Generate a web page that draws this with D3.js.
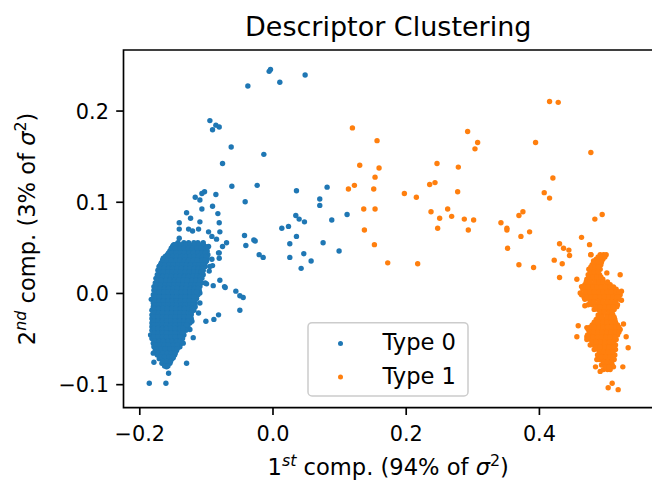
<!DOCTYPE html>
<html><head><meta charset="utf-8">
<script src="https://cdn.jsdelivr.net/npm/d3@7"></script>
<style>body{margin:0;background:#fff;} svg{display:block;font-family:"DejaVu Sans";}</style>
</head><body>
<svg id="chart" width="652" height="483"></svg>
<script>
const chartTitle = "Descriptor Clustering";
const seriesNames = ["Type 0", "Type 1"];
const seriesColors = ["#1f77b4", "#ff7f0e"];
const xTicks = [-0.2, 0.0, 0.2, 0.4];
const yTicks = [-0.1, 0.0, 0.1, 0.2];
const xDomain = [-0.2237, 0.5713];
const yDomain = [-0.1258, 0.2664];

// Type 0: scattered points
const type0Scatter = [
[-0.037,0.227],[-0.005,0.243],[-0.003,0.245],[0.011,0.231],[0.049,0.239],
[-0.094,0.189],[-0.085,0.184],[-0.080,0.182],[-0.090,0.179],
[-0.062,0.160],[-0.013,0.152],[-0.075,0.142],[-0.061,0.117],[-0.023,0.118],[-0.041,0.100],
[0.036,0.112],[0.082,0.116],[0.071,0.103],[0.071,0.096],[0.112,0.086],[0.089,0.080],
[0.035,0.085],[0.040,0.081],[0.048,0.078],[0.014,0.071],[0.024,0.073],[0.036,0.062],[0.026,0.054],
[0.047,0.043],[0.026,0.039],[0.058,0.035],[0.043,0.027],[0.076,0.055],[0.100,0.046],
[-0.042,0.063],[-0.040,0.052],[-0.028,0.058],[-0.026,0.057],[-0.020,0.042],[-0.014,0.039],
[-0.055,0.002],[-0.049,-0.003],[-0.044,-0.005],[-0.049,-0.019],[-0.072,0.007],[-0.081,-0.024],
[-0.088,-0.029],[-0.100,-0.031],[-0.129,-0.077],[-0.185,-0.099],[-0.160,-0.099],[-0.156,-0.088],
[-0.178,-0.076],[-0.182,-0.007],[-0.119,-0.049],[-0.079,0.014],[-0.089,0.008],[-0.071,0.006],
[-0.094,0.029],[-0.080,0.038],[-0.080,0.044],[-0.069,0.055],[-0.075,0.051],[-0.079,0.067],
[-0.082,0.087],[-0.080,0.077],[-0.085,0.108],[-0.090,0.095],[-0.106,0.092],[-0.102,0.111],
[-0.106,0.109],[-0.116,0.105],[-0.109,0.102],[-0.129,0.088],[-0.123,0.082],[-0.109,0.078],
[-0.140,0.077],[-0.140,0.070],[-0.111,0.070],[-0.140,0.060],[-0.148,0.053],[-0.155,0.044],
[-0.170,0.029],[-0.166,0.027],[-0.172,0.009],
[-0.126,0.070],[-0.120,0.068],[-0.096,0.067],[-0.091,0.062],[-0.084,0.059],[-0.149,0.052],
[-0.104,0.055],[-0.096,0.051],[-0.081,0.044],[-0.090,0.030],[-0.095,0.024],[-0.101,0.011],
[-0.099,0.010],[-0.109,0.000],[-0.109,-0.011],[-0.111,-0.022],[-0.121,-0.031],[-0.124,-0.040],
[-0.134,-0.055],[-0.139,-0.059],[-0.149,-0.071],[-0.159,-0.081],[-0.179,-0.066],[-0.183,-0.046],
[-0.180,-0.029],[-0.179,-0.018],[-0.173,0.015],[-0.164,0.024],[-0.156,0.035],[-0.099,0.035],
[-0.091,0.037],[-0.105,0.024],[-0.109,0.020]
];

// Type 0: dense core, rows of [y, x values]
const type0Core = [
[0.055,[-0.142,-0.133,-0.126,-0.118,-0.112]],
[0.051,[-0.150,-0.142,-0.135,-0.128,-0.121,-0.114,-0.107,-0.101]],
[0.046,[-0.154,-0.148,-0.141,-0.135,-0.128,-0.122,-0.115,-0.109,-0.102,-0.098]],
[0.042,[-0.158,-0.155,-0.148,-0.142,-0.135,-0.129,-0.122,-0.116,-0.109,-0.103,-0.097]],
[0.038,[-0.164,-0.161,-0.154,-0.148,-0.141,-0.135,-0.128,-0.122,-0.115,-0.109,-0.102,-0.098]],
[0.033,[-0.167,-0.166,-0.159,-0.153,-0.146,-0.140,-0.133,-0.127,-0.120,-0.114,-0.107,-0.101]],
[0.029,[-0.170,-0.165,-0.159,-0.152,-0.146,-0.139,-0.133,-0.126,-0.120,-0.113,-0.107,-0.101]],
[0.025,[-0.172,-0.168,-0.162,-0.155,-0.149,-0.142,-0.136,-0.129,-0.123,-0.116,-0.110,-0.104]],
[0.020,[-0.173,-0.167,-0.160,-0.154,-0.147,-0.141,-0.134,-0.128,-0.121,-0.115,-0.108,-0.104]],
[0.016,[-0.175,-0.171,-0.164,-0.158,-0.151,-0.145,-0.138,-0.132,-0.125,-0.119,-0.112,-0.106]],
[0.011,[-0.176,-0.170,-0.163,-0.157,-0.150,-0.144,-0.137,-0.131,-0.124,-0.118,-0.111,-0.107]],
[0.007,[-0.178,-0.174,-0.167,-0.161,-0.154,-0.148,-0.141,-0.135,-0.128,-0.122,-0.115,-0.109]],
[0.003,[-0.178,-0.172,-0.165,-0.159,-0.152,-0.146,-0.139,-0.133,-0.126,-0.120,-0.113,-0.110]],
[-0.002,[-0.179,-0.175,-0.168,-0.162,-0.155,-0.149,-0.142,-0.136,-0.129,-0.123,-0.116,-0.112]],
[-0.006,[-0.179,-0.173,-0.166,-0.160,-0.153,-0.147,-0.140,-0.134,-0.127,-0.121,-0.114]],
[-0.011,[-0.179,-0.175,-0.168,-0.162,-0.155,-0.149,-0.142,-0.136,-0.129,-0.123,-0.116]],
[-0.015,[-0.179,-0.173,-0.166,-0.160,-0.153,-0.147,-0.140,-0.134,-0.127,-0.121,-0.116]],
[-0.019,[-0.181,-0.176,-0.170,-0.163,-0.157,-0.150,-0.144,-0.137,-0.131,-0.124,-0.118]],
[-0.024,[-0.181,-0.174,-0.168,-0.161,-0.155,-0.148,-0.142,-0.135,-0.129,-0.122]],
[-0.028,[-0.181,-0.177,-0.171,-0.164,-0.158,-0.151,-0.145,-0.138,-0.132,-0.125,-0.122]],
[-0.033,[-0.181,-0.174,-0.168,-0.161,-0.155,-0.148,-0.142,-0.135,-0.129,-0.124]],
[-0.037,[-0.181,-0.177,-0.171,-0.164,-0.158,-0.151,-0.145,-0.138,-0.132,-0.127]],
[-0.041,[-0.181,-0.174,-0.168,-0.161,-0.155,-0.148,-0.142,-0.135,-0.130]],
[-0.046,[-0.181,-0.177,-0.171,-0.164,-0.158,-0.151,-0.145,-0.138,-0.133]],
[-0.050,[-0.181,-0.174,-0.168,-0.161,-0.155,-0.148,-0.142,-0.135]],
[-0.055,[-0.179,-0.173,-0.166,-0.160,-0.153,-0.147,-0.140,-0.137]],
[-0.059,[-0.178,-0.171,-0.165,-0.158,-0.152,-0.145,-0.140]],
[-0.063,[-0.176,-0.170,-0.163,-0.157,-0.150,-0.144]],
[-0.068,[-0.173,-0.167,-0.160,-0.154,-0.147]],
[-0.072,[-0.170,-0.164,-0.157,-0.151]],
[-0.077,[-0.166,-0.160,-0.154]]
];

// Type 0: dense core, in-between rows
const type0CoreFill = [
[0.053,[-0.146,-0.137,-0.130,-0.124,-0.117,-0.110,-0.104]],
[0.049,[-0.152,-0.146,-0.139,-0.133,-0.126,-0.120,-0.113,-0.107,-0.100]],
[0.044,[-0.156,-0.151,-0.145,-0.138,-0.132,-0.125,-0.119,-0.112,-0.106,-0.101]],
[0.040,[-0.161,-0.157,-0.150,-0.144,-0.137,-0.131,-0.124,-0.118,-0.111,-0.105,-0.100]],
[0.036,[-0.165,-0.158,-0.152,-0.145,-0.139,-0.132,-0.126,-0.119,-0.113,-0.106,-0.101]],
[0.031,[-0.168,-0.162,-0.155,-0.149,-0.142,-0.136,-0.129,-0.123,-0.116,-0.110,-0.104]],
[0.027,[-0.169,-0.163,-0.156,-0.150,-0.143,-0.137,-0.130,-0.124,-0.117,-0.111,-0.105]],
[0.023,[-0.170,-0.164,-0.157,-0.151,-0.144,-0.138,-0.131,-0.125,-0.118,-0.112,-0.107]],
[0.018,[-0.171,-0.165,-0.158,-0.152,-0.145,-0.139,-0.132,-0.126,-0.119,-0.113,-0.108]],
[0.014,[-0.173,-0.167,-0.160,-0.154,-0.147,-0.141,-0.134,-0.128,-0.121,-0.115,-0.109]],
[0.009,[-0.174,-0.168,-0.161,-0.155,-0.148,-0.142,-0.135,-0.129,-0.122,-0.116,-0.111]],
[0.005,[-0.175,-0.169,-0.162,-0.156,-0.149,-0.143,-0.136,-0.130,-0.123,-0.117,-0.112]],
[0.001,[-0.176,-0.170,-0.163,-0.157,-0.150,-0.144,-0.137,-0.131,-0.124,-0.118,-0.114]],
[-0.004,[-0.176,-0.170,-0.163,-0.157,-0.150,-0.144,-0.137,-0.131,-0.124,-0.118]],
[-0.009,[-0.177,-0.170,-0.164,-0.157,-0.151,-0.144,-0.138,-0.131,-0.125,-0.119]],
[-0.013,[-0.176,-0.170,-0.163,-0.157,-0.150,-0.144,-0.137,-0.131,-0.124,-0.119]],
[-0.017,[-0.177,-0.171,-0.164,-0.158,-0.151,-0.145,-0.138,-0.132,-0.125,-0.120]],
[-0.022,[-0.178,-0.171,-0.165,-0.158,-0.152,-0.145,-0.139,-0.132,-0.126,-0.122]],
[-0.026,[-0.178,-0.172,-0.165,-0.159,-0.152,-0.146,-0.139,-0.133,-0.126]],
[-0.031,[-0.178,-0.172,-0.165,-0.159,-0.152,-0.146,-0.139,-0.133,-0.127]],
[-0.035,[-0.178,-0.172,-0.165,-0.159,-0.152,-0.146,-0.139,-0.133,-0.129]],
[-0.039,[-0.178,-0.172,-0.165,-0.159,-0.152,-0.146,-0.139,-0.134]],
[-0.044,[-0.178,-0.172,-0.165,-0.159,-0.152,-0.146,-0.139,-0.135]],
[-0.048,[-0.178,-0.172,-0.165,-0.159,-0.152,-0.146,-0.139]],
[-0.053,[-0.177,-0.170,-0.164,-0.157,-0.151,-0.144,-0.139]],
[-0.057,[-0.175,-0.169,-0.162,-0.156,-0.149,-0.143]],
[-0.061,[-0.174,-0.167,-0.161,-0.154,-0.148,-0.143]],
[-0.066,[-0.171,-0.165,-0.158,-0.152,-0.146]],
[-0.070,[-0.168,-0.162,-0.155,-0.150]],
[-0.075,[-0.164,-0.158,-0.153]],
[-0.080,[-0.162,-0.157]]
];

// Type 1: scattered points
const type1Scatter = [
[0.120,0.181],[0.157,0.167],[0.131,0.140],[0.160,0.137],[0.154,0.127],[0.114,0.114],[0.123,0.118],
[0.152,0.114],[0.137,0.092],[0.154,0.092],[0.138,0.069],[0.153,0.053],[0.173,0.033],
[0.293,0.177],[0.308,0.165],[0.304,0.158],[0.247,0.142],[0.279,0.138],[0.236,0.119],[0.244,0.121],
[0.278,0.111],[0.198,0.109],[0.216,0.105],[0.238,0.089],[0.263,0.092],[0.251,0.082],[0.269,0.084],
[0.288,0.081],[0.302,0.080],[0.248,0.071],[0.294,0.069],[0.218,0.032],
[0.416,0.210],[0.429,0.209],[0.395,0.165],[0.478,0.154],[0.421,0.126],[0.408,0.110],[0.416,0.104],
[0.376,0.089],[0.370,0.085],[0.343,0.077],[0.352,0.071],[0.352,0.069],[0.386,0.067],[0.373,0.062],
[0.353,0.049],[0.370,0.031],[0.392,0.028],[0.495,0.086],[0.484,0.081],[0.464,0.061],[0.431,0.054],
[0.437,0.049],[0.445,0.047],[0.446,0.041],[0.423,0.036],[0.435,0.032],[0.476,0.053],[0.478,0.042],
[0.482,0.035],[0.497,0.040],[0.502,0.022],[0.522,0.020],[0.431,0.017],[0.457,0.015],
[0.524,0.002],[0.524,-0.008],[0.517,-0.015],[0.527,-0.034],[0.531,-0.048],[0.534,-0.060],
[0.526,-0.081],[0.459,-0.036],[0.457,-0.048],[0.469,-0.014],[0.464,0.007],[0.462,0.000],
[0.472,-0.048],[0.479,-0.049],[0.485,-0.081],[0.492,-0.086],[0.504,-0.104],[0.510,-0.099],
[0.519,-0.106],[0.478,0.042],[0.464,-0.002],[0.468,-0.005],[0.472,-0.038],[0.478,-0.040],
[0.487,-0.073],[0.512,-0.081]
];

// Type 1: dense core, rows of [y, x values]
const type1Core = [
[0.042,[0.492,0.497,0.501]],
[0.037,[0.486,0.491,0.496]],
[0.031,[0.480,0.486,0.491,0.493]],
[0.026,[0.475,0.481,0.487,0.492]],
[0.020,[0.474,0.480,0.486,0.491]],
[0.015,[0.472,0.478,0.484,0.490,0.496]],
[0.009,[0.469,0.476,0.482,0.489,0.495,0.502,0.507]],
[0.004,[0.466,0.472,0.479,0.485,0.492,0.498,0.505,0.511,0.516]],
[-0.002,[0.467,0.474,0.480,0.487,0.493,0.500,0.506,0.513,0.519,0.522]],
[-0.007,[0.469,0.476,0.482,0.489,0.495,0.502,0.508,0.515,0.521]],
[-0.013,[0.474,0.480,0.487,0.493,0.500,0.506,0.513,0.518]],
[-0.018,[0.483,0.489,0.496,0.502,0.509,0.513]],
[-0.024,[0.489,0.495,0.502,0.508,0.511]],
[-0.029,[0.486,0.492,0.499,0.505,0.512,0.514]],
[-0.035,[0.480,0.486,0.493,0.499,0.506,0.512,0.518]],
[-0.040,[0.474,0.480,0.487,0.493,0.500,0.506,0.513,0.519,0.522]],
[-0.046,[0.473,0.479,0.486,0.492,0.499,0.505,0.512,0.518]],
[-0.051,[0.472,0.478,0.485,0.491,0.498,0.504,0.511,0.516]],
[-0.057,[0.477,0.483,0.490,0.496,0.503,0.509,0.515]],
[-0.062,[0.483,0.489,0.496,0.502,0.509,0.515]],
[-0.068,[0.488,0.494,0.501,0.507,0.514]],
[-0.073,[0.491,0.497,0.504,0.510,0.513]],
[-0.079,[0.494,0.500,0.507,0.510]],
[-0.084,[0.497,0.503,0.507]]
];

// Type 1: dense core, in-between rows
const type1CoreFill = [
[0.0395,[0.489,0.494,0.499]],
[0.034,[0.483,0.489,0.494]],
[0.0285,[0.478,0.484,0.489]],
[0.023,[0.477,0.483,0.489]],
[0.0175,[0.475,0.481,0.487,0.493]],
[0.012,[0.471,0.477,0.484,0.490,0.496,0.503]],
[0.0065,[0.468,0.474,0.481,0.487,0.494,0.500,0.507,0.512]],
[0.001,[0.470,0.477,0.483,0.490,0.496,0.503,0.509,0.516,0.520]],
[-0.0045,[0.472,0.479,0.485,0.492,0.498,0.505,0.511,0.518]],
[-0.010,[0.477,0.483,0.490,0.496,0.503,0.509,0.515]],
[-0.0155,[0.486,0.492,0.499,0.505,0.511]],
[-0.021,[0.492,0.498,0.505,0.510]],
[-0.0265,[0.489,0.495,0.502,0.508,0.513]],
[-0.032,[0.483,0.489,0.496,0.502,0.509,0.515]],
[-0.0375,[0.477,0.483,0.490,0.496,0.503,0.509,0.516,0.520]],
[-0.043,[0.476,0.482,0.489,0.495,0.502,0.508,0.515,0.520]],
[-0.0485,[0.475,0.481,0.488,0.494,0.501,0.507,0.514]],
[-0.054,[0.480,0.486,0.493,0.499,0.506,0.512]],
[-0.0595,[0.486,0.492,0.499,0.505,0.512]],
[-0.065,[0.491,0.497,0.504,0.511]],
[-0.0705,[0.494,0.500,0.507,0.511]],
[-0.076,[0.497,0.503,0.509]],
[-0.0815,[0.500,0.505]]
];

const expand = rows => rows.flatMap(([y, xs]) => xs.map(x => [x, y]));
const series = [
  type0Scatter.concat(expand(type0Core), expand(type0CoreFill)),
  type1Scatter.concat(expand(type1Core), expand(type1CoreFill))
];

const svg = d3.select("#chart");
const L = 123.5, R = 653, T = 50, B = 407.7;
const x = d3.scaleLinear().domain(xDomain).range([L, R]);
const y = d3.scaleLinear().domain(yDomain).range([B, T]);
const fmt = d3.format(".1f");
const FS = 20.8, LFS = 22.6, TFS = 27, LW = 1.67, TL = 7.3;

// points
series.forEach((pts, i) => {
  svg.append("g").selectAll("circle").data(pts).join("circle")
    .attr("cx", d => x(d[0])).attr("cy", d => y(d[1])).attr("r", 2.7)
    .attr("fill", seriesColors[i]);
});

// spines
svg.append("path").attr("d", `M${L},${T}H${R}V${B}H${L}Z`)
  .attr("fill", "none").attr("stroke", "#000").attr("stroke-width", LW);

// x axis
const xAxis = d3.axisBottom(x).tickValues(xTicks).tickFormat(fmt).tickSize(TL).tickPadding(TL);
const gx = svg.append("g").attr("transform", `translate(0,${B})`).call(xAxis);
gx.select(".domain").remove();
gx.selectAll(".tick line").attr("stroke", "#000").attr("stroke-width", LW);
gx.selectAll(".tick text").attr("font-size", FS).attr("font-family", "DejaVu Sans").attr("fill", "#000").attr("dy", null).attr("y", 33);

const yAxis = d3.axisLeft(y).tickValues(yTicks).tickFormat(fmt).tickSize(TL).tickPadding(TL);
const gy = svg.append("g").attr("transform", `translate(${L},0)`).call(yAxis);
gy.select(".domain").remove();
gy.selectAll(".tick line").attr("stroke", "#000").attr("stroke-width", LW);
gy.selectAll(".tick text").attr("font-size", FS).attr("font-family", "DejaVu Sans").attr("fill", "#000").attr("dy", "0.36em");

// title
svg.append("text").attr("x", (L + R) / 2).attr("y", 36).attr("text-anchor", "middle")
  .attr("font-size", TFS).text(chartTitle);

// axis labels with superscripts
function richLabel(t, parts) {
  parts.forEach(p => {
    const s = t.append("tspan").text(p.t);
    if (p.sup) s.attr("font-size", LFS * 0.7).attr("dy", -LFS * 0.42);
    if (p.back) s.attr("dy", LFS * 0.42);
    if (p.it) s.attr("font-style", "italic");
  });
}
const xl = svg.append("text").attr("x", (L + R) / 2).attr("y", 475).attr("text-anchor", "middle").attr("font-size", LFS);
richLabel(xl, [{t:"1"},{t:"st",sup:1,it:1},{t:" comp. (94% of ",back:1},{t:"σ",it:1},{t:"2",sup:1},{t:")",back:1}]);
const yl = svg.append("text").attr("transform", `translate(35,${(T + B) / 2}) rotate(-90)`).attr("text-anchor", "middle").attr("font-size", LFS);
richLabel(yl, [{t:"2"},{t:"nd",sup:1,it:1},{t:" comp. (3% of ",back:1},{t:"σ",it:1},{t:"2",sup:1},{t:")",back:1}]);

// legend
const lg = svg.append("g");
lg.append("rect").attr("x", 308).attr("y", 322.7).attr("width", 160).attr("height", 73.3)
  .attr("rx", 4).attr("fill", "#fff").attr("fill-opacity", 0.8)
  .attr("stroke", "#cccccc").attr("stroke-width", 1.5);
seriesNames.forEach((n, i) => {
  const cy = 342 + i * 33.5;
  lg.append("circle").attr("cx", 340.5).attr("cy", cy + 1.5).attr("r", 2.5).attr("fill", seriesColors[i]);
  lg.append("text").attr("x", 382.5).attr("y", cy + 8).attr("font-size", LFS).text(n);
});
</script>
</body></html>
